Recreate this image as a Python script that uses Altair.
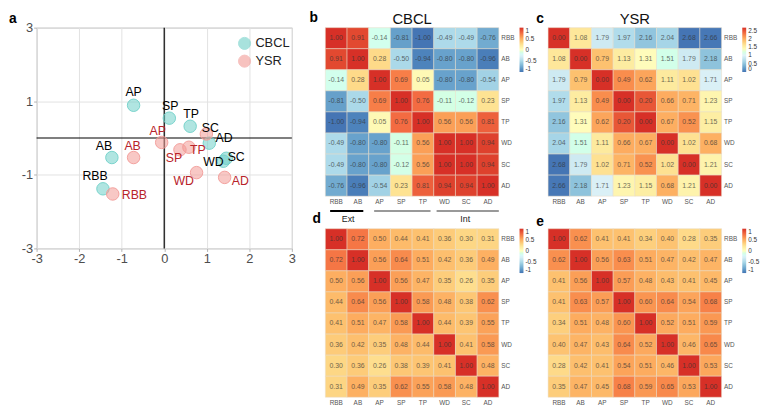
import altair as alt
import pandas as pd

FONT = "Liberation Sans"

labels = ["RBB", "AB", "AP", "SP", "TP", "WD", "SC", "AD"]

# ---- panel a: 2-D positions (same label order) ----
cbcl_x = [-1.44, -1.23, -0.72, 0.12, 0.61, 1.39, 1.46, 1.06]
cbcl_y = [-1.38, -0.53, 0.89, 0.54, 0.32, -0.63, -0.55, -0.14]
ysr_x = [-1.21, -0.72, -0.06, 0.37, 0.58, 0.76, 0.99, 1.42]
ysr_y = [-1.52, -0.53, -0.12, -0.32, -0.25, -0.94, 0.11, -1.07]
series = ["CBCL", "YSR"]
axis_ticks = [-3, -2.5, -2, -1.5, -1, -0.5, 0, 0.5, 1, 1.5, 2, 2.5, 3]
zero = [0]

# ---- panel b: CBCL correlations ----
cbcl_corr = [
    [1.00, 0.91, -0.14, -0.81, -1.00, -0.49, -0.49, -0.76],
    [0.91, 1.00, 0.28, -0.50, -0.94, -0.80, -0.80, -0.96],
    [-0.14, 0.28, 1.00, 0.69, 0.05, -0.80, -0.80, -0.54],
    [-0.81, -0.50, 0.69, 1.00, 0.76, -0.11, -0.12, 0.23],
    [-1.00, -0.94, 0.05, 0.76, 1.00, 0.56, 0.56, 0.81],
    [-0.49, -0.80, -0.80, -0.11, 0.56, 1.00, 1.00, 0.94],
    [-0.49, -0.80, -0.80, -0.12, 0.56, 1.00, 1.00, 0.94],
    [-0.76, -0.96, -0.54, 0.23, 0.81, 0.94, 0.94, 1.00],
]
# ---- panel c: YSR distances ----
ysr_dist = [
    [0.00, 1.08, 1.79, 1.97, 2.16, 2.04, 2.68, 2.66],
    [1.08, 0.00, 0.79, 1.13, 1.31, 1.51, 1.79, 2.18],
    [1.79, 0.79, 0.00, 0.49, 0.62, 1.11, 1.02, 1.71],
    [1.97, 1.13, 0.49, 0.00, 0.20, 0.66, 0.71, 1.23],
    [2.16, 1.31, 0.62, 0.20, 0.00, 0.67, 0.52, 1.15],
    [2.04, 1.51, 1.11, 0.66, 0.67, 0.00, 1.02, 0.68],
    [2.68, 1.79, 1.02, 0.71, 0.52, 1.02, 0.00, 1.21],
    [2.66, 2.18, 1.71, 1.23, 1.15, 0.68, 1.21, 0.00],
]
# ---- panel d ----
d_corr = [
    [1.00, 0.72, 0.50, 0.44, 0.41, 0.36, 0.30, 0.31],
    [0.72, 1.00, 0.56, 0.64, 0.51, 0.42, 0.36, 0.49],
    [0.50, 0.56, 1.00, 0.56, 0.47, 0.35, 0.26, 0.35],
    [0.44, 0.64, 0.56, 1.00, 0.58, 0.48, 0.38, 0.62],
    [0.41, 0.51, 0.47, 0.58, 1.00, 0.44, 0.39, 0.55],
    [0.36, 0.42, 0.35, 0.48, 0.44, 1.00, 0.41, 0.58],
    [0.30, 0.36, 0.26, 0.38, 0.39, 0.41, 1.00, 0.48],
    [0.31, 0.49, 0.35, 0.62, 0.55, 0.58, 0.48, 1.00],
]
# ---- panel e ----
e_corr = [
    [1.00, 0.62, 0.41, 0.41, 0.34, 0.40, 0.28, 0.35],
    [0.62, 1.00, 0.56, 0.63, 0.51, 0.47, 0.42, 0.47],
    [0.41, 0.56, 1.00, 0.57, 0.48, 0.43, 0.41, 0.45],
    [0.41, 0.63, 0.57, 1.00, 0.60, 0.64, 0.54, 0.68],
    [0.34, 0.51, 0.48, 0.60, 1.00, 0.52, 0.51, 0.59],
    [0.40, 0.47, 0.43, 0.64, 0.52, 1.00, 0.46, 0.65],
    [0.28, 0.42, 0.41, 0.54, 0.51, 0.46, 1.00, 0.53],
    [0.35, 0.47, 0.45, 0.68, 0.59, 0.65, 0.53, 1.00],
]
corr_legend_vals = [-1, -0.5, 0, 0.5, 1]
dist_legend_vals = [0, 0.5, 1, 1.5, 2, 2.5]
dist_range = [0, 2.68]

groups = ["Ext", "mid", "Int"]
group_names = ["Ext", "", "Int"]
group_start = ["RBB", "AP", "WD"]
group_end = ["AB", "TP", "AD"]
group_label_at = ["AB", "AP", "SC"]

# ---- styles ----
RDYLBU = ["#4575b4", "#74add1", "#abd9e9", "#e0f3f8", "#ffffbf",
          "#fee090", "#fdae61", "#f46d43", "#d73027"]
corr_stops = [-1, -0.75, -0.5, -0.25, 0, 0.25, 0.5, 0.75, 1]
TEAL = "#6fd0c8"
PINK = "#f29a96"
RED_TXT = "#b8232a"
HM_W, HM_H = 176, 171
# band positions for group lines / labels (style)
g_style = {
    "Ext": dict(b0=0.22, b1=0.75, bl=0.05, color="black", w=2),
    "mid": dict(b0=0.25, b1=0.85, bl=0.5, color="#777777", w=1.5),
    "Int": dict(b0=0.13, b1=1.0, bl=0.45, color="#777777", w=1.5),
}

# label offsets (pixels) relative to each point, style only
lab_off = {
    ("CBCL", "RBB"): (-8, -13), ("CBCL", "AB"): (-8, -12), ("CBCL", "AP"): (0, -13),
    ("CBCL", "SP"): (1, -12), ("CBCL", "TP"): (1, -12), ("CBCL", "WD"): (-10, 1),
    ("CBCL", "SC"): (10, -1), ("CBCL", "AD"): (15, -5),
    ("YSR", "RBB"): (22, 1), ("YSR", "AB"): (-1, -12), ("YSR", "AP"): (-4, -12),
    ("YSR", "SP"): (-6, 8), ("YSR", "TP"): (9, 3), ("YSR", "WD"): (-13, 9),
    ("YSR", "SC"): (4, -6), ("YSR", "AD"): (16, 4),
}

# ================= panel a =================
pts = pd.DataFrame({
    "series": ["CBCL"] * 8 + ["YSR"] * 8,
    "label": labels + labels,
    "x": cbcl_x + ysr_x,
    "y": cbcl_y + ysr_y,
})

grid_test = "datum.value % 1 !== 0"
def scatter_axis(orient):
    return alt.Axis(
        orient=orient, values=axis_ticks, title=None,
        labelExpr="datum.value % 1 === 0 ? '' + datum.value : ''",
        labelFontSize=13, labelColor="#4d4d4d", labelPadding=1,
        tickSize=3, domain=False, labelOverlap=False,
        tickColor={"condition": {"test": grid_test, "value": "transparent"}, "value": "#b3b3b3"},
        gridColor={"condition": {"test": grid_test, "value": "#f1f1f1"}, "value": "#e2e2e2"},
        labelFlush=False,
    )

xs = alt.Scale(domain=[-3, 3], nice=False)
ys = alt.Scale(domain=[-3, 3], nice=False)
col_scale = alt.Scale(domain=series, range=[TEAL, PINK])

pts_base = alt.Chart(pts)
circles = pts_base.mark_circle(size=160, fillOpacity=0.55, strokeWidth=1, strokeOpacity=0.9).encode(
    x=alt.X("x:Q", scale=xs, axis=scatter_axis("bottom")),
    y=alt.Y("y:Q", scale=ys, axis=scatter_axis("left")),
    color=alt.Color("series:N", scale=col_scale, legend=alt.Legend(
        title=None, orient="none", legendX=204, legendY=9, labelFontSize=13,
        labelColor="#222", symbolSize=150, symbolOpacity=0.6, symbolStrokeWidth=1,
        rowPadding=0, labelFont=FONT)),
    stroke=alt.Stroke("series:N", scale=col_scale, legend=None),
)
zdf = pd.DataFrame({"z": zero})
vrule = alt.Chart(zdf).mark_rule(color="black", strokeWidth=1.2).encode(x=alt.X("z:Q", scale=xs))
hrule = alt.Chart(zdf).mark_rule(color="black", strokeWidth=1.2).encode(y=alt.Y("z:Q", scale=ys))

text_layers = []
for (s, lab), (dx, dy) in lab_off.items():
    colr = "black" if (s == "CBCL" or lab == "SC") else RED_TXT
    text_layers.append(
        pts_base.transform_filter(
            f"datum.series === '{s}' && datum.label === '{lab}'"
        ).mark_text(dx=dx, dy=dy, fontSize=12.5, color=colr, font=FONT).encode(
            x=alt.X("x:Q", scale=xs), y=alt.Y("y:Q", scale=ys), text="label:N")
    )

letter_a = alt.Chart(pd.DataFrame({"t": ["a"]})).mark_text(
    fontSize=14, fontWeight="bold", align="left", baseline="middle", font=FONT
).encode(text="t:N", x=alt.value(-28), y=alt.value(-9))

panel_a = alt.layer(vrule, hrule, circles, *text_layers, letter_a).properties(
    width=259, height=224,
    view=alt.ViewBackground(stroke="#b3b3b3", strokeWidth=1),
)

# ================= heatmaps =================
def long(mat, name):
    rows = []
    for i, r in enumerate(labels):
        for j, c in enumerate(labels):
            rows.append({"row": r, "col": c, name: mat[i][j], "txt": f"{mat[i][j]:.2f}"})
    return pd.DataFrame(rows)

def legend(values, off):
    return alt.Legend(
        title=None, orient="right", values=values, direction="vertical",
        gradientLength=45, gradientThickness=4, labelFontSize=6.5, labelColor="#333",
        labelExpr="'' + datum.value", offset=off, labelOffset=2, gradientStrokeWidth=0,
        labelFont=FONT, labelOverlap=False,
    )

band = alt.Scale(domain=labels, paddingInner=0, paddingOuter=0)

def heatmap(mat, name, letter, lx, ly, fill_scale, leg, title=None, extra=None):
    df = long(mat, name)
    base = alt.Chart(df)
    xax = alt.Axis(orient="bottom", title=None, labelAngle=0, ticks=False, domain=False,
                   labelFontSize=6.5, labelColor="#555", labelPadding=2, labelFont=FONT,
                   labelOverlap=False)
    yax = alt.Axis(orient="right", title=None, ticks=False, domain=False,
                   labelFontSize=6.5, labelColor="#555", labelPadding=2, labelFont=FONT,
                   labelOverlap=False)
    rect = base.mark_rect(stroke="#e8dcc8", strokeWidth=0.5).encode(
        x=alt.X("col:N", scale=band, axis=xax),
        y=alt.Y("row:N", scale=band, axis=yax),
        color=alt.Color(f"{name}:Q", scale=fill_scale, legend=leg),
    )
    txt = base.mark_text(fontSize=7, color="#333333", opacity=0.7, font=FONT).encode(
        x=alt.X("col:N", scale=band), y=alt.Y("row:N", scale=band), text="txt:N")
    tdf = pd.DataFrame({"t": [letter] + ([title] if title else [])})
    let = alt.Chart(tdf).transform_filter(f"datum.t === '{letter}'").mark_text(
        fontSize=14, fontWeight="bold", align="left", baseline="middle", font=FONT
    ).encode(text="t:N", x=alt.value(lx), y=alt.value(ly))
    layers = [rect, txt, let]
    if title:
        layers.append(
            alt.Chart(tdf).transform_filter(f"datum.t === '{title}'").mark_text(
                fontSize=15, align="center", baseline="middle", font=FONT, color="#111"
            ).encode(text="t:N", x=alt.value(HM_W / 2), y=alt.value(-9))
        )
    layers += (extra or [])
    return alt.layer(*layers).properties(width=HM_W, height=HM_H)

corr_scale = alt.Scale(domain=corr_stops, range=RDYLBU)

# group annotation under panel b
gdf = pd.DataFrame({"g": groups, "name": group_names, "s": group_start, "e": group_end,
                    "at": group_label_at})
g_layers = []
for g in groups:
    st = g_style[g]
    gsel = alt.Chart(gdf).transform_filter(f"datum.g === '{g}'")
    g_layers.append(
        gsel.mark_rule(color=st["color"], strokeWidth=st["w"]).encode(
            x=alt.X("s:N", scale=band, bandPosition=st["b0"]),
            x2=alt.X2("e:N", bandPosition=st["b1"]),
            y=alt.value(HM_H + 15),
        )
    )
    g_layers.append(
        gsel.mark_text(fontSize=9, color="#222", baseline="middle", font=FONT).encode(
            x=alt.X("at:N", scale=band, bandPosition=st["bl"]),
            y=alt.value(HM_H + 23), text="name:N")
    )

panel_b = heatmap(cbcl_corr, "vb", "b", -16, -10, corr_scale, legend(corr_legend_vals, 5),
                  title="CBCL", extra=g_layers)

# panel c: fill low=red, legend drawn with its own scale
dist_stops = [dist_range[0] + (dist_range[1] - dist_range[0]) * i / 8 for i in range(9)]
dist_fill = alt.Scale(domain=dist_stops, range=RDYLBU[::-1])
leg_layer = alt.Chart(pd.DataFrame({"lv": dist_range})).mark_point(opacity=0).encode(
    color=alt.Color("lv:Q", scale=alt.Scale(domain=dist_stops, range=RDYLBU),
                    legend=legend(dist_legend_vals, 5)))
panel_c = heatmap(ysr_dist, "vc", "c", -12, -9, dist_fill, None, title="YSR",
                  extra=[leg_layer]).resolve_scale(color="independent")

panel_d = heatmap(d_corr, "vd", "d", -13, -10, corr_scale, legend(corr_legend_vals, 5))
panel_e = heatmap(e_corr, "ve", "e", -12, -7, corr_scale, legend(corr_legend_vals, 5))

right = alt.concat(panel_b, panel_c, panel_d, panel_e, columns=2, bounds="flush",
                   spacing={"row": 33, "column": 50}).resolve_scale(color="independent")

chart = alt.hconcat(panel_a, right, spacing=13).resolve_scale(
    color="independent", stroke="independent"
).properties(padding=0).configure(font=FONT).configure_view(stroke=None)

chart.save("out.html", embed_options={"renderer": "svg", "actions": False})
